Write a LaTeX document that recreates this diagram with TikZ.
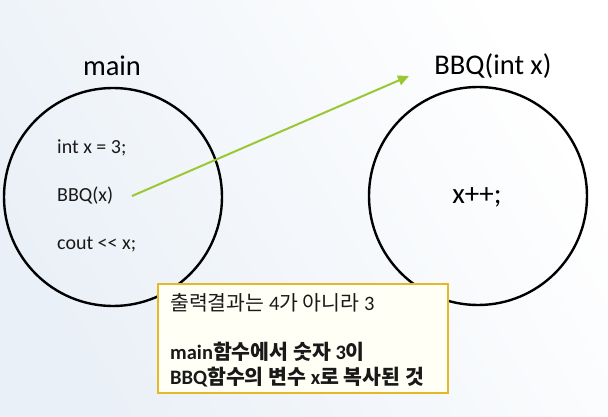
\documentclass[tikz,border=0pt]{standalone}
\usepackage{fontspec}
\setmainfont{Carlito}
\newfontfamily\kr{Noto Sans CJK KR}
\usetikzlibrary{arrows.meta}
\definecolor{arrowgreen}{RGB}{155,200,50}
\definecolor{boxgold}{RGB}{228,184,40}
\definecolor{boxfill}{RGB}{255,255,246}
\definecolor{bgblue}{RGB}{234,240,247}
\begin{document}
\begin{tikzpicture}[x=1pt,y=-1pt,
  ring/.style={circle,draw=black,line width=2.4pt,minimum size=218pt,inner sep=0pt},
  title/.style={font=\fontsize{28.5}{30}\selectfont,text=black,inner sep=0pt},
  code/.style={font=\fontsize{20}{22}\selectfont,text=black!90,inner sep=0pt,anchor=west},
  note/.style={font=\fontsize{20.5}{22}\selectfont,text=black!90,inner sep=0pt,anchor=west},
  callout/.style={draw=boxgold,fill=boxfill,line width=2pt,minimum width=290pt,minimum height=109pt,inner sep=0pt}]
\shade[left color=bgblue,right color=white,shading angle=120] (0,0) rectangle (608,417);
\useasboundingbox (0,0) rectangle (608,417);
% titles
\node[title] (tmain) at (112,66) {main};
\node[title] (tbbq) at (493,66) {BBQ(int x)};
% circles
\node[ring] (cmain) at (113,197) {};
\node[ring] (cbbq) at (478,196) {};
% code
\node[code] (l1) at (57,148) {int x = 3;};
\node[code] (l2) at (57,196) {BBQ(x)};
\node[code] (l3) at (57,244) {cout \mbox{<}\kern0pt\mbox{<} x;};
\node[font=\fontsize{29}{31}\selectfont,inner sep=0pt] (inc) at (477,197) {x++;};
% arrow
\coordinate (astart) at (132,196);
\coordinate (aend) at (409,76);
\draw[arrowgreen,line width=2pt,-{Triangle[length=11pt,width=10pt]}] (astart) -- (aend);
% callout
\node[callout] (box) at (303,338.5) {};
\node[note] (n1) at (170,303) {{\kr 출력결과는} 4{\kr 가 아니라} 3};
\node[note,font=\fontsize{20.5}{22}\selectfont\bfseries] (n2) at (170,352) {main{\kr\bfseries 함수에서 숫자} 3{\kr\bfseries 이}};
\node[note,font=\fontsize{20.5}{22}\selectfont\bfseries] (n3) at (170,377) {BBQ{\kr\bfseries 함수의 변수} x{\kr\bfseries 로 복사된 것}};
\end{tikzpicture}
\end{document}
